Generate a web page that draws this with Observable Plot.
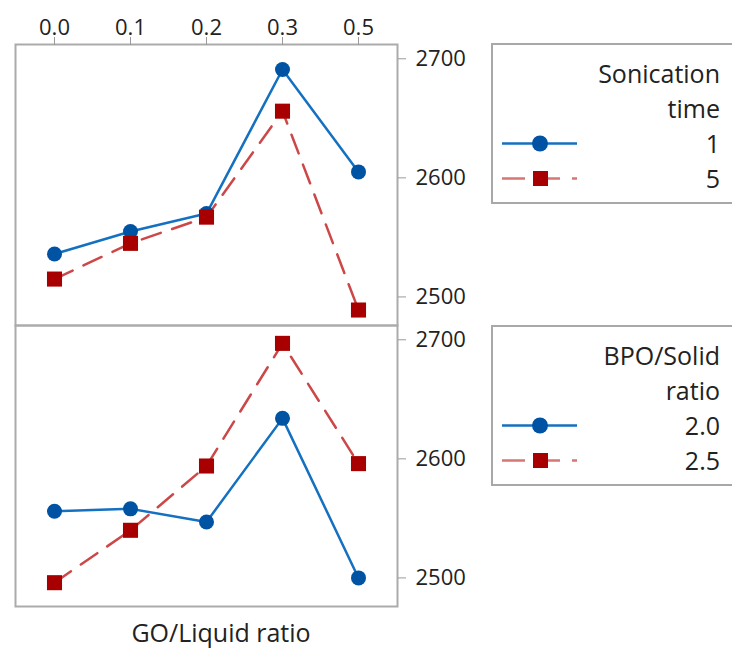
<!DOCTYPE html>
<html>
<head>
<meta charset="utf-8">
<script src="https://cdn.jsdelivr.net/npm/d3@7"></script>
<script src="https://cdn.jsdelivr.net/npm/@observablehq/plot@0.6"></script>
<style>
  body { margin:0; background:#fff; width:732px; height:648px; overflow:hidden; position:relative;
         font-family:"Open Sans", sans-serif; color:#222; }
  #chart { position:absolute; left:0; top:0; }
  .legend { position:absolute; left:491px; width:262px; border:2px solid #a8a8a8; box-sizing:border-box; background:#fff; }
  .row { position:absolute; left:0; right:0; height:35px; line-height:35px; font-size:25px; text-align:right; padding-right:31px; white-space:nowrap; }
  .row svg { position:absolute; left:9px; top:0; }
  #xtitle { position:absolute; left:0; width:442px; top:620px; font-size:25px; line-height:25px; text-align:center; }
</style>
</head>
<body>
<div id="chart"></div>
<div id="xtitle">GO/Liquid ratio</div>
<script>
// ---- data ----
const goRatio = ["0.0", "0.1", "0.2", "0.3", "0.5"];
const panels = ["Sonication time", "BPO/Solid ratio"];
const sonicationLevels = ["1", "5"];
const bpoLevels = ["2.0", "2.5"];
const sonication1 = [2536, 2555, 2570, 2691, 2605];
const sonication5 = [2515, 2545, 2567, 2656, 2489];
const bpo20 = [2556, 2558, 2547, 2634, 2500];
const bpo25 = [2496, 2540, 2594, 2697, 2596];
const yTicks = [2500, 2600, 2700];

const blueLine = "#1470c0", blueDot = "#0052a3";
const redLine = "#cc4848", redDot = "#a80000";

const rows = [];
goRatio.forEach((g, i) => {
  rows.push({panel: panels[0], level: sonicationLevels[0], kind: "a", go: g, v: sonication1[i]});
  rows.push({panel: panels[0], level: sonicationLevels[1], kind: "b", go: g, v: sonication5[i]});
  rows.push({panel: panels[1], level: bpoLevels[0], kind: "a", go: g, v: bpo20[i]});
  rows.push({panel: panels[1], level: bpoLevels[1], kind: "b", go: g, v: bpo25[i]});
});
const solid = rows.filter(d => d.kind === "a");
const dashed = rows.filter(d => d.kind === "b");

const chart = Plot.plot({
  width: 480,
  height: 612,
  marginTop: 43,
  marginLeft: 15,
  marginRight: 83,
  marginBottom: 6,
  style: {fontFamily: "'Open Sans', sans-serif", fontSize: "22px", color: "#222", background: "#fff"},
  x: {type: "point", domain: goRatio, padding: 0.5},
  y: {domain: [2476, 2712]},
  fy: {domain: panels, axis: null, padding: 0},
  marks: [
    Plot.frame({stroke: "#ababab", strokeWidth: 2}),
    Plot.line(dashed, {x: "go", y: "v", fy: "panel", z: "level", stroke: redLine, strokeWidth: 2.5, strokeDasharray: "20,12"}),
    Plot.line(solid, {x: "go", y: "v", fy: "panel", z: "level", stroke: blueLine, strokeWidth: 2.5}),
    Plot.dot(solid, {x: "go", y: "v", fy: "panel", symbol: "circle", r: 7.5, fill: blueDot}),
    Plot.dot(dashed, {x: "go", y: "v", fy: "panel", symbol: "square", r: 8.5, fill: redDot}),
    Plot.axisX({anchor: "top", tickSize: 8, tickPadding: 2, fontSize: 22, stroke: "#9a9a9a", fill: "#222", label: null}),
    Plot.axisY({anchor: "right", ticks: yTicks, tickSize: 8, tickPadding: 10, fontSize: 22, stroke: "#9a9a9a", fill: "#222", label: null, tickFormat: d => String(d)})
  ]
});
document.getElementById("chart").appendChild(chart);

// ---- legends ----
function symbolSvg(kind) {
  const s = kind === "a"
    ? `<line x1="0" y1="17.5" x2="75" y2="17.5" stroke="${blueLine}" stroke-width="2.5"/><circle cx="38" cy="17.5" r="8" fill="${blueDot}"/>`
    : `<line x1="0" y1="17.5" x2="75" y2="17.5" stroke="${redLine}" stroke-width="2.5" stroke-dasharray="23,12" opacity="0.75"/><rect x="31" y="10" width="15" height="15" fill="${redDot}"/>`;
  return `<svg width="80" height="35">${s}</svg>`;
}
function makeLegend(top, height, titleLines, levels) {
  const box = document.createElement("div");
  box.className = "legend";
  box.style.top = top + "px";
  box.style.height = height + "px";
  const lines = titleLines.map(t => ({text: t}))
    .concat(levels.map((l, i) => ({text: l, kind: i === 0 ? "a" : "b"})));
  lines.forEach((ln, i) => {
    const r = document.createElement("div");
    r.className = "row";
    r.style.top = (11 + i * 35) + "px";
    r.innerHTML = (ln.kind ? symbolSvg(ln.kind) : "") + ln.text;
    box.appendChild(r);
  });
  document.body.appendChild(box);
}
makeLegend(43, 161, ["Sonication", "time"], sonicationLevels);
makeLegend(325, 161, ["BPO/Solid", "ratio"], bpoLevels);
</script>
</body>
</html>
